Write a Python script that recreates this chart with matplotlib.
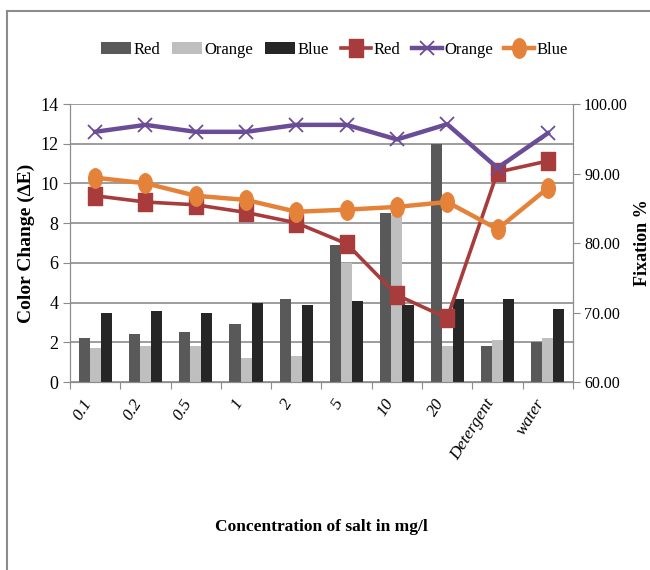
import numpy as np
import matplotlib
matplotlib.use("Agg")
import matplotlib.pyplot as plt
from matplotlib.path import Path
from matplotlib.transforms import Affine2D
from matplotlib.lines import Line2D

plt.rcParams["font.family"] = ["Liberation Serif", "DejaVu Serif"]

# --- data ---
categories = ["0.1", "0.2", "0.5", "1", "2", "5", "10", "20", "Detergent", "water"]
# color change (ΔE), left axis
de_red = [2.2, 2.4, 2.5, 2.9, 4.2, 6.9, 8.5, 12.0, 1.8, 2.0]
de_orange = [1.7, 1.8, 1.8, 1.2, 1.3, 6.0, 8.4, 1.8, 2.1, 2.2]
de_blue = [3.5, 3.6, 3.5, 4.0, 3.9, 4.1, 3.9, 4.2, 4.2, 3.7]
# fixation %, right axis
fx_red = [86.8, 85.9, 85.5, 84.4, 82.9, 79.9, 72.5, 69.2, 90.2, 91.8]
fx_orange = [96.0, 97.0, 96.0, 96.0, 97.0, 97.0, 94.9, 97.1, 90.8, 95.8]
fx_blue = [89.4, 88.6, 86.8, 86.2, 84.5, 84.8, 85.2, 85.9, 82.0, 87.9]

C_BAR_RED, C_BAR_ORANGE, C_BAR_BLUE = "#595959", "#bfbfbf", "#262626"
C_LN_RED, C_LN_ORANGE, C_LN_BLUE = "#a83c3c", "#6b4c96", "#e5823a"
GREY = "#8c8c8c"

# tall markers (the chart is horizontally compressed)
ELLIPSE = Path.unit_circle().transformed(Affine2D().scale(0.7, 1.0))
TALL_SQ = Path.unit_rectangle().transformed(Affine2D().translate(-0.5, -0.5).scale(0.75, 1.0))

fig = plt.figure(figsize=(6.5, 5.7), dpi=100)
ax = fig.add_axes([0.1077, 0.3298, 0.7738, 0.4877])
ax2 = ax.twinx()

x = np.arange(len(categories))
w = 0.22
ax.bar(x - w, de_red, w, color=C_BAR_RED, label="Red", zorder=2)
ax.bar(x, de_orange, w, color=C_BAR_ORANGE, label="Orange", zorder=2)
ax.bar(x + w, de_blue, w, color=C_BAR_BLUE, label="Blue", zorder=2)

ax2.plot(x, fx_red, color=C_LN_RED, lw=2.6, marker=TALL_SQ, ms=13, label="Red")
ax2.plot(x, fx_orange, color=C_LN_ORANGE, lw=3.2, marker="x", ms=10, mew=1.3, label="Orange")
ax2.plot(x, fx_blue, color=C_LN_BLUE, lw=3.2, marker=ELLIPSE, ms=14, label="Blue")

ax.set_xlim(-0.5, len(categories) - 0.5)
ax.set_ylim(0, 14)
ax.set_yticks(range(0, 15, 2))
ax2.set_ylim(60, 100)
ax2.set_yticks(range(60, 101, 10))
ax2.set_yticklabels([f"{v:.2f}" for v in range(60, 101, 10)])

ax.yaxis.grid(True, color=GREY, lw=1.2, zorder=0)
ax.set_axisbelow(True)
for a in (ax, ax2):
    a.spines["top"].set_visible(False)
    for s in ("bottom", "left", "right"):
        a.spines[s].set_color(GREY)
    a.tick_params(colors=GREY, labelcolor="black", length=5)
ax.tick_params(axis="y", labelsize=13)
ax2.tick_params(axis="y", labelsize=11.5, pad=3)

ax.set_xticks(np.arange(-0.5, len(categories), 1.0))
ax.set_xticklabels([])
ax.set_xticks(x, minor=True)
ax.set_xticklabels(categories, minor=True, rotation=58, ha="right", va="top",
                   fontsize=12.5, style="italic")
ax.tick_params(axis="x", which="minor", length=0, pad=10)

ax.set_ylabel("Color Change (\u2206E)", fontsize=14, fontweight="bold", labelpad=4)
ax2.set_ylabel("Fixation %", fontsize=13, fontweight="bold", labelpad=4)
ax.set_xlabel("Concentration of salt in mg/l", fontsize=12.5, fontweight="bold", labelpad=40)

h1, l1 = ax.get_legend_handles_labels()
h2, l2 = ax2.get_legend_handles_labels()
fig.legend(h1 + h2, l1 + l2, loc="center", bbox_to_anchor=(0.515, 0.912), ncol=6,
           frameon=False, fontsize=12, handlelength=1.8, handletextpad=0.15,
           columnspacing=0.7)

# chart-area border (top and left only)
fig.add_artist(Line2D([0.01, 1.0], [0.981, 0.981], color=GREY, lw=1.5))
fig.add_artist(Line2D([0.01, 0.01], [0.0, 0.981], color=GREY, lw=1.5))

fig.savefig("out.png", dpi=100)
